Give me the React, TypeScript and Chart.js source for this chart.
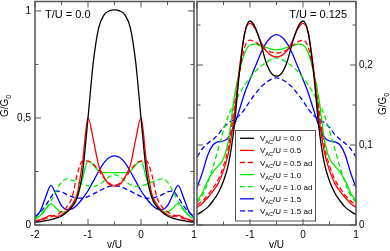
import React, { useEffect, useRef } from 'react';
import { Chart, registerables } from 'chart.js';
Chart.register(...registerables);

const FONT = '"Liberation Sans", Arial, Helvetica, sans-serif';

// v/U grid
const xValues = [-2.0, -1.9, -1.8, -1.7, -1.6, -1.5, -1.4, -1.3, -1.2, -1.1, -1.0, -0.9, -0.8, -0.7, -0.6, -0.5, -0.4, -0.3, -0.2, -0.1, 0.0, 0.1, 0.2, 0.3, 0.4, 0.5, 0.6, 0.7, 0.8, 0.9, 1.0];

// T/U = 0.0 panel
const black0 = [0.013, 0.016, 0.02, 0.025, 0.032, 0.042, 0.06, 0.085, 0.13, 0.25, 0.5, 0.76, 0.92, 0.98, 1.0, 1.005, 1.0, 0.98, 0.92, 0.76, 0.5, 0.25, 0.13, 0.085, 0.06, 0.042, 0.032, 0.025, 0.02, 0.016, 0.013];
const red0 = [0.018, 0.024, 0.035, 0.045, 0.04, 0.048, 0.065, 0.095, 0.15, 0.3, 0.5, 0.4, 0.28, 0.225, 0.19, 0.182, 0.19, 0.225, 0.28, 0.4, 0.5, 0.3, 0.15, 0.095, 0.065, 0.048, 0.04, 0.045, 0.035, 0.024, 0.018];
const red0ad = [0.02, 0.024, 0.03, 0.038, 0.048, 0.062, 0.085, 0.13, 0.24, 0.3, 0.298, 0.285, 0.255, 0.22, 0.195, 0.186, 0.195, 0.22, 0.255, 0.285, 0.298, 0.3, 0.24, 0.13, 0.085, 0.062, 0.048, 0.038, 0.03, 0.024, 0.02];
const green0 = [0.028, 0.045, 0.075, 0.1, 0.078, 0.06, 0.065, 0.09, 0.135, 0.22, 0.3, 0.28, 0.252, 0.245, 0.245, 0.245, 0.245, 0.245, 0.252, 0.28, 0.3, 0.22, 0.135, 0.09, 0.065, 0.06, 0.078, 0.1, 0.075, 0.045, 0.028];
const green0ad = [0.03, 0.045, 0.07, 0.11, 0.16, 0.2, 0.215, 0.21, 0.2, 0.19, 0.183, 0.18, 0.188, 0.205, 0.225, 0.235, 0.225, 0.205, 0.188, 0.18, 0.183, 0.19, 0.2, 0.21, 0.215, 0.2, 0.16, 0.11, 0.07, 0.045, 0.03];
const blue0 = [0.035, 0.065, 0.13, 0.185, 0.14, 0.09, 0.072, 0.075, 0.095, 0.125, 0.16, 0.205, 0.25, 0.29, 0.315, 0.323, 0.315, 0.29, 0.25, 0.205, 0.16, 0.125, 0.095, 0.075, 0.072, 0.09, 0.14, 0.185, 0.13, 0.065, 0.035];
const blue0ad = [0.04, 0.06, 0.09, 0.13, 0.158, 0.155, 0.142, 0.132, 0.126, 0.126, 0.133, 0.145, 0.158, 0.17, 0.18, 0.183, 0.18, 0.17, 0.158, 0.145, 0.133, 0.126, 0.126, 0.132, 0.142, 0.155, 0.158, 0.13, 0.09, 0.06, 0.04];

// T/U = 0.125 panel
const black1 = [0.013, 0.017, 0.022, 0.03, 0.04, 0.055, 0.078, 0.122, 0.19, 0.24, 0.255, 0.247, 0.228, 0.204, 0.19, 0.186, 0.19, 0.204, 0.228, 0.247, 0.255, 0.24, 0.19, 0.122, 0.078, 0.055, 0.04, 0.03, 0.022, 0.017, 0.013];
const red1 = [0.022, 0.027, 0.034, 0.042, 0.052, 0.068, 0.092, 0.135, 0.195, 0.24, 0.252, 0.245, 0.23, 0.218, 0.212, 0.21, 0.212, 0.218, 0.23, 0.245, 0.252, 0.24, 0.195, 0.135, 0.092, 0.068, 0.052, 0.042, 0.034, 0.027, 0.022];
const red1ad = [0.025, 0.03, 0.037, 0.046, 0.057, 0.074, 0.1, 0.145, 0.19, 0.222, 0.231, 0.229, 0.224, 0.219, 0.216, 0.215, 0.216, 0.219, 0.224, 0.229, 0.231, 0.222, 0.19, 0.145, 0.1, 0.074, 0.057, 0.046, 0.037, 0.03, 0.025];
const green1 = [0.03, 0.04, 0.055, 0.066, 0.074, 0.083, 0.108, 0.158, 0.192, 0.215, 0.225, 0.226, 0.224, 0.222, 0.22, 0.219, 0.22, 0.222, 0.224, 0.226, 0.225, 0.215, 0.192, 0.158, 0.108, 0.083, 0.074, 0.066, 0.055, 0.04, 0.03];
const green1ad = [0.028, 0.037, 0.052, 0.072, 0.095, 0.118, 0.138, 0.152, 0.164, 0.175, 0.184, 0.192, 0.198, 0.203, 0.207, 0.209, 0.207, 0.203, 0.198, 0.192, 0.184, 0.175, 0.164, 0.152, 0.138, 0.118, 0.095, 0.072, 0.052, 0.037, 0.028];
const blue1 = [0.047, 0.065, 0.087, 0.1, 0.104, 0.105, 0.11, 0.124, 0.144, 0.165, 0.182, 0.198, 0.214, 0.227, 0.235, 0.238, 0.235, 0.227, 0.214, 0.198, 0.182, 0.165, 0.144, 0.124, 0.11, 0.105, 0.104, 0.1, 0.087, 0.065, 0.047];
const blue1ad = [0.085, 0.095, 0.102, 0.107, 0.113, 0.122, 0.128, 0.132, 0.137, 0.145, 0.155, 0.164, 0.172, 0.178, 0.182, 0.184, 0.182, 0.178, 0.172, 0.164, 0.155, 0.145, 0.137, 0.132, 0.128, 0.122, 0.113, 0.107, 0.102, 0.095, 0.085];

// legend / series
const legendValues = ['0.0', '0.5', '0.5 ad', '1.0', '1.0 ad', '1.5', '1.5 ad'];
const seriesColors = ['#000000', '#ff0000', '#ff0000', '#00ee00', '#00ee00', '#0000ff', '#0000ff'];
const seriesDashed = [false, false, true, false, true, false, true];

// ticks
const xTicksLeft = [-2, -1, 0, 1];
const xTicksRight = [-1, 0, 1];
const xMajor = [-2, -1, 0, 1];
const xMinor = [-1.5, -0.5, 0.5];
const yTicksLeft = [0, 0.5, 1];
const yMinorLeft = [0.25, 0.75];
const yTicksRight = [0, 0.1, 0.2];
const yMinorRight = [0.05, 0.15, 0.25];

const fmt = (v: number) => String(Math.round(v * 1000) / 1000).replace('.', ',');

function makeDatasets(series: number[][]) {
  return series.map((ys, i) => ({
    label: 'V_AC/U = ' + legendValues[i],
    data: xValues.map((x, j) => ({ x, y: ys[j] })),
    borderColor: seriesColors[i],
    backgroundColor: seriesColors[i],
    borderWidth: 1.3,
    borderDash: seriesDashed[i] ? [5, 3] : [],
    pointRadius: 0,
    fill: false,
    cubicInterpolationMode: 'monotone' as const,
  }));
}

function drawGG0(ctx: CanvasRenderingContext2D, cx: number, cy: number) {
  ctx.save();
  ctx.translate(cx, cy);
  ctx.rotate(-Math.PI / 2);
  ctx.fillStyle = '#000';
  ctx.textAlign = 'left';
  ctx.textBaseline = 'alphabetic';
  ctx.font = `10px ${FONT}`;
  const w1 = ctx.measureText('G/G').width;
  ctx.font = `7px ${FONT}`;
  const w2 = ctx.measureText('0').width;
  const start = -(w1 + w2) / 2;
  ctx.font = `10px ${FONT}`;
  ctx.fillText('G/G', start, 3.6);
  ctx.font = `7px ${FONT}`;
  ctx.fillText('0', start + w1, 6.2);
  ctx.restore();
}

function panelPlugin(cfg: { id: string; title: string; titleAlign: 'left' | 'right'; ggSide: 'left' | 'right'; yMajor: number[]; yMinor: number[]; legend: boolean }) {
  return {
    id: 'panel_' + cfg.id,
    afterDatasetsDraw(chart: any) {
      const ctx: CanvasRenderingContext2D = chart.ctx;
      const { left, right, top, bottom } = chart.chartArea;
      const xs = chart.scales.x;
      const ys = chart.scales.y;
      ctx.save();

      // legend
      if (cfg.legend) {
        const lx = left + 38.5;
        const ly = 130.5;
        const lw = 80;
        const lh = 90.5;
        ctx.fillStyle = '#ffffff';
        ctx.fillRect(lx, ly, lw, lh);
        ctx.strokeStyle = '#555';
        ctx.lineWidth = 1;
        ctx.setLineDash([]);
        ctx.strokeRect(lx, ly, lw, lh);
        chart.data.datasets.forEach((ds: any, i: number) => {
          const yy = 138.3 + i * 12.1;
          ctx.strokeStyle = ds.borderColor;
          ctx.lineWidth = 1.3;
          ctx.setLineDash(ds.borderDash || []);
          ctx.beginPath();
          ctx.moveTo(lx + 4.5, yy);
          ctx.lineTo(lx + 18.5, yy);
          ctx.stroke();
          ctx.setLineDash([]);
          ctx.fillStyle = '#000';
          ctx.textAlign = 'left';
          ctx.textBaseline = 'alphabetic';
          let tx = lx + 24.5;
          const base = yy + 3;
          ctx.font = `8px ${FONT}`;
          ctx.fillText('V', tx, base);
          tx += ctx.measureText('V').width;
          ctx.font = `5.5px ${FONT}`;
          ctx.fillText('AC', tx, base + 2.2);
          tx += ctx.measureText('AC').width;
          ctx.font = `8px ${FONT}`;
          ctx.fillText('/U = ' + legendValues[i], tx, base);
        });
      }

      // inward ticks
      ctx.setLineDash([]);
      ctx.strokeStyle = '#555';
      ctx.lineWidth = 1;
      const seg = (x1: number, y1: number, x2: number, y2: number) => {
        ctx.beginPath();
        ctx.moveTo(x1, y1);
        ctx.lineTo(x2, y2);
        ctx.stroke();
      };
      const xt = (vals: number[], len: number) =>
        vals.forEach((v) => {
          const p = xs.getPixelForValue(v);
          seg(p, bottom, p, bottom - len);
          seg(p, top, p, top + len);
        });
      const yt = (vals: number[], len: number) =>
        vals.forEach((v) => {
          const p = ys.getPixelForValue(v);
          seg(left, p, left + len, p);
          seg(right, p, right - len, p);
        });
      xt(xMajor, 6);
      xt(xMinor, 3.5);
      yt(cfg.yMajor, 6);
      yt(cfg.yMinor, 3.5);

      // frame
      ctx.strokeStyle = '#555';
      ctx.lineWidth = 1.5;
      ctx.strokeRect(left, top, right - left, bottom - top);

      // title
      ctx.fillStyle = '#000';
      ctx.font = `11px ${FONT}`;
      ctx.textBaseline = 'middle';
      if (cfg.titleAlign === 'left') {
        ctx.textAlign = 'left';
        ctx.fillText(cfg.title, left + 10, 14.5);
      } else {
        ctx.textAlign = 'right';
        ctx.fillText(cfg.title, right - 9, 14.5);
      }

      // x title
      ctx.font = `10px ${FONT}`;
      ctx.textAlign = 'center';
      ctx.textBaseline = 'middle';
      ctx.fillText('v/U', (left + right) / 2, 245.5);

      // y title
      if (cfg.ggSide === 'left') drawGG0(ctx, 4.5, 106);
      else drawGG0(ctx, 382.5, 104);

      ctx.restore();
    },
  };
}

function zeroPad(s: any) {
  s.paddingLeft = 0;
  s.paddingRight = 0;
  s.paddingTop = 0;
  s.paddingBottom = 0;
}

function makeConfig(side: 'left' | 'right'): any {
  const isLeft = side === 'left';
  const series = isLeft
    ? [black0, red0, red0ad, green0, green0ad, blue0, blue0ad]
    : [black1, red1, red1ad, green1, green1ad, blue1, blue1ad];
  const xTicks = isLeft ? xTicksLeft : xTicksRight;
  const yTicks = isLeft ? yTicksLeft : yTicksRight;
  return {
    type: 'line',
    data: { datasets: makeDatasets(series) },
    options: {
      responsive: false,
      animation: false,
      events: [],
      layout: {
        autoPadding: false,
        padding: isLeft ? { left: 0, top: 1.5, right: 196, bottom: 0 } : { left: 197, top: 1.5, right: 0, bottom: 0 },
      },
      plugins: { legend: { display: false }, tooltip: { enabled: false }, title: { display: false } },
      scales: {
        x: {
          type: 'linear',
          min: -2,
          max: 1,
          afterBuildTicks: (s: any) => {
            s.ticks = xTicks.map((v) => ({ value: v }));
          },
          afterFit: (s: any) => {
            s.height = 26;
            zeroPad(s);
          },
          grid: { display: false, drawTicks: false },
          border: { display: false },
          ticks: {
            font: { family: FONT, size: 10 },
            color: '#000',
            padding: 4,
            maxRotation: 0,
            autoSkip: false,
            callback: (v: number) => fmt(v),
          },
        },
        y: {
          type: 'linear',
          position: isLeft ? 'left' : 'right',
          min: 0,
          max: isLeft ? 1.044 : 0.2794,
          afterBuildTicks: (s: any) => {
            s.ticks = yTicks.map((v) => ({ value: v }));
          },
          afterFit: (s: any) => {
            s.width = isLeft ? 35 : 34;
            zeroPad(s);
          },
          grid: { display: false, drawTicks: false },
          border: { display: false },
          ticks: {
            font: { family: FONT, size: 10 },
            color: '#000',
            padding: isLeft ? 4 : 3,
            autoSkip: false,
            callback: (v: number) => fmt(v),
          },
        },
      },
    },
    plugins: [
      panelPlugin({
        id: side,
        title: isLeft ? 'T/U = 0.0' : 'T/U = 0.125',
        titleAlign: isLeft ? 'left' : 'right',
        ggSide: side,
        yMajor: yTicks,
        yMinor: isLeft ? yMinorLeft : yMinorRight,
        legend: !isLeft,
      }),
    ],
  };
}

export default function App() {
  const leftRef = useRef<HTMLCanvasElement>(null);
  const rightRef = useRef<HTMLCanvasElement>(null);
  useEffect(() => {
    const c1 = new Chart(leftRef.current as HTMLCanvasElement, makeConfig('left'));
    const c2 = new Chart(rightRef.current as HTMLCanvasElement, makeConfig('right'));
    return () => {
      c1.destroy();
      c2.destroy();
    };
  }, []);
  const cs: React.CSSProperties = { position: 'absolute', left: 0, top: 0, width: 390, height: 251 };
  return (
    <div style={{ position: 'fixed', left: 0, top: 0, width: 390, height: 251, background: '#fff' }}>
      <canvas ref={leftRef} width={390} height={251} style={cs} />
      <canvas ref={rightRef} width={390} height={251} style={cs} />
    </div>
  );
}
